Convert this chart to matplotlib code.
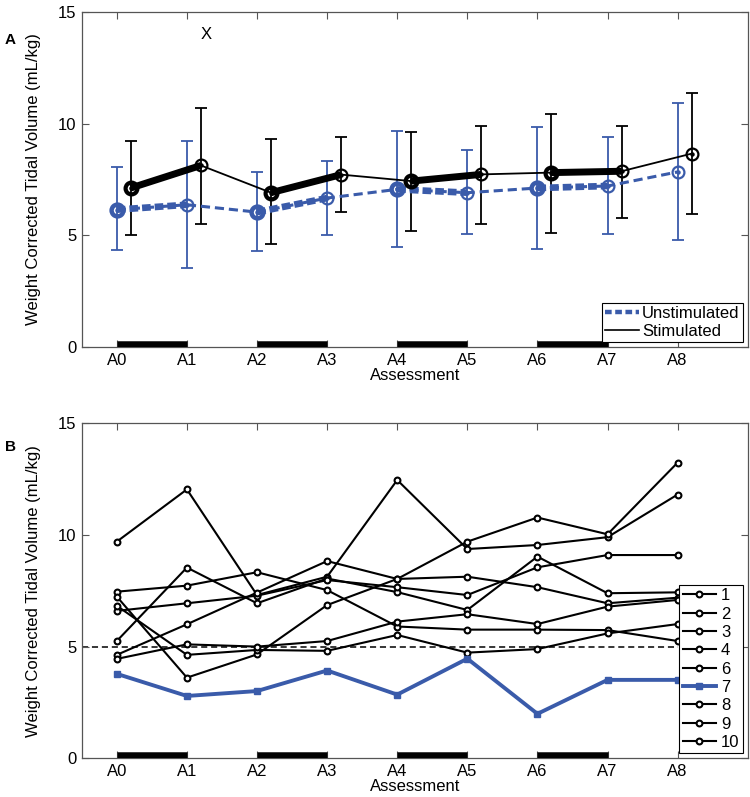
import matplotlib
matplotlib.use("Agg")
import matplotlib.pyplot as plt
from matplotlib.lines import Line2D
import numpy as np

plt.rcParams['font.family'] = ['Liberation Sans', 'DejaVu Sans']

# ---------------- data ----------------
assessments = ['A0', 'A1', 'A2', 'A3', 'A4', 'A5', 'A6', 'A7', 'A8']

# Panel A: group means with error bar ends
unstim_mean = [6.15, 6.37, 6.04, 6.67, 7.06, 6.91, 7.12, 7.21, 7.84]
unstim_hi = [8.06, 9.21, 7.84, 8.34, 9.66, 8.81, 9.85, 9.39, 10.94]
unstim_lo = [4.36, 3.54, 4.30, 5.00, 4.46, 5.07, 4.40, 5.07, 4.78]
stim_mean = [7.12, 8.13, 6.91, 7.72, 7.43, 7.73, 7.81, 7.87, 8.66]
stim_hi = [9.21, 10.72, 9.30, 9.40, 9.63, 9.91, 10.45, 9.91, 11.37]
stim_lo = [5.03, 5.52, 4.60, 6.03, 5.21, 5.52, 5.12, 5.79, 5.97]

# stimulation periods (start, end assessment index)
stim_periods = [(0, 1), (2, 3), (4, 5), (6, 7)]

# Panel B: individual subjects
subject_ids = ['1', '2', '3', '4', '6', '7', '8', '9', '10']
subj_1 = [9.70, 12.04, 7.31, 8.13, 12.46, 9.37, 9.55, 9.90, 11.81]
subj_2 = [7.46, 7.73, 8.33, 7.53, 5.90, 5.76, 5.76, 5.74, 5.25]
subj_3 = [5.25, 8.54, 6.94, 8.05, 7.44, 6.64, 9.03, 7.39, 7.43]
subj_4 = [7.24, 3.61, 4.65, 6.86, 8.03, 8.13, 7.66, 6.94, 7.19]
subj_6 = [6.60, 6.94, 7.28, 7.98, 7.66, 7.31, 8.55, 9.10, 9.10]
subj_7 = [3.78, 2.79, 3.01, 3.93, 2.85, 4.46, 1.99, 3.51, 3.51]
subj_8 = [6.83, 4.63, 4.85, 4.81, 5.52, 4.73, 4.89, 5.59, 6.01]
subj_9 = [4.63, 6.00, 7.42, 8.83, 8.03, 9.70, 10.78, 10.03, 13.24]
subj_10 = [4.45, 5.10, 5.00, 5.25, 6.12, 6.45, 6.01, 6.79, 7.09]
subjects = [subj_1, subj_2, subj_3, subj_4, subj_6, subj_7, subj_8, subj_9, subj_10]
highlight_subject = '7'
threshold = 5

# ---------------- style ----------------
BLUE = '#3A5BAA'
SPINE = '#555555'
FS = 12

fig = plt.figure(figsize=(7.5, 7.97), dpi=100)
axA = fig.add_axes([0.109, 0.5646, 0.888, 0.4203])
axB = fig.add_axes([0.109, 0.0486, 0.888, 0.4203])

x = np.arange(len(assessments))
offset = 0.2


def style_axes(ax):
    ax.set_xlim(-0.5, 9)
    ax.set_ylim(0, 15)
    ax.set_xticks(x)
    ax.set_xticklabels(assessments, fontsize=FS)
    ax.set_yticks([0, 5, 10, 15])
    ax.set_yticklabels(['0', '5', '10', '15'], fontsize=FS)
    ax.tick_params(direction='in', top=True, right=True, length=5,
                   width=0.8, color=SPINE, pad=4)
    for s in ax.spines.values():
        s.set_color(SPINE)
        s.set_linewidth(0.9)
    ax.set_xlabel('Assessment', fontsize=FS, labelpad=0)
    ax.set_ylabel('Weight Corrected Tidal Volume (mL/kg)', fontsize=FS, labelpad=12)
    for a, b in stim_periods:
        ax.plot([x[a], x[b]], [0, 0], color='black', lw=9,
                solid_capstyle='butt', zorder=5)


# ---------------- panel A ----------------
um = np.array(unstim_mean)
sm = np.array(stim_mean)
xs = x + offset

axA.errorbar(x, um, yerr=[um - np.array(unstim_lo), np.array(unstim_hi) - um],
             fmt='none', ecolor=BLUE, elinewidth=1.3, capsize=4, capthick=1.3, zorder=2)
axA.errorbar(xs, sm, yerr=[sm - np.array(stim_lo), np.array(stim_hi) - sm],
             fmt='none', ecolor='black', elinewidth=1.3, capsize=4, capthick=1.3, zorder=2)

# thin lines through all points
axA.plot(x, um, color=BLUE, lw=2.2, dashes=(3, 1.6), marker='o', ms=8.5,
         mfc='none', mec=BLUE, mew=1.6, zorder=3)
axA.plot(xs, sm, color='black', lw=1.3, marker='o', ms=8.5,
         mfc='none', mec='black', mew=1.6, zorder=4)
# thick stimulation-period segments
for a, b in stim_periods:
    axA.plot(x[[a, b]], um[[a, b]], color=BLUE, lw=4.8, dashes=(1.3, 0.6),
             marker='o', ms=8.5, mfc='none', mec=BLUE, mew=3.2, markevery=[0], zorder=3)
    axA.plot(xs[[a, b]], sm[[a, b]], color='black', lw=5.0, solid_capstyle='butt',
             marker='o', ms=8.5, mfc='none', mec='black', mew=3.0, markevery=[0], zorder=4)
# center dots
axA.plot(x, um, ls='none', marker='o', ms=2.2, color=BLUE, zorder=5)
axA.plot(xs, sm, ls='none', marker='o', ms=2.2, color='black', zorder=5)

axA.text(1.27, 14.0, 'X', fontsize=FS, ha='center', va='center')
style_axes(axA)

legA = [Line2D([], [], color=BLUE, lw=3.2, dashes=(1.5, 0.8)),
        Line2D([], [], color='black', lw=1.2)]
lg = axA.legend(legA, ['Unstimulated', 'Stimulated'], loc='lower right',
                fontsize=FS, frameon=True, fancybox=False, edgecolor='black',
                framealpha=1, borderpad=0.2, labelspacing=0.15, handlelength=2.0,
                handletextpad=0.2, borderaxespad=0.3)
lg.get_frame().set_linewidth(0.8)

# ---------------- panel B ----------------
axB.plot([-0.5, x[-1]], [threshold, threshold], color='black', lw=1.1,
         dashes=(4, 2.5), zorder=1)
handles = []
for sid, vals in zip(subject_ids, subjects):
    if sid == highlight_subject:
        h, = axB.plot(x, vals, color=BLUE, lw=2.8, marker='s', ms=5,
                      mfc=BLUE, mec=BLUE, zorder=4)
    else:
        h, = axB.plot(x, vals, color='black', lw=1.5, marker='o', ms=4.2,
                      mfc='white', mec='black', mew=1.5, zorder=3)
    handles.append(h)
style_axes(axB)
lgB = axB.legend(handles, subject_ids, loc='lower right', fontsize=FS,
                 frameon=True, fancybox=False, edgecolor='black', framealpha=1,
                 borderpad=0.2, labelspacing=0.2, handlelength=2.0,
                 handletextpad=0.3, borderaxespad=0.3)
lgB.get_frame().set_linewidth(0.8)

fig.text(0.014, 0.95, 'A', fontsize=11, fontweight='bold', ha='center', va='center')
fig.text(0.014, 0.439, 'B', fontsize=11, fontweight='bold', ha='center', va='center')

fig.savefig('out.png', dpi=100)
